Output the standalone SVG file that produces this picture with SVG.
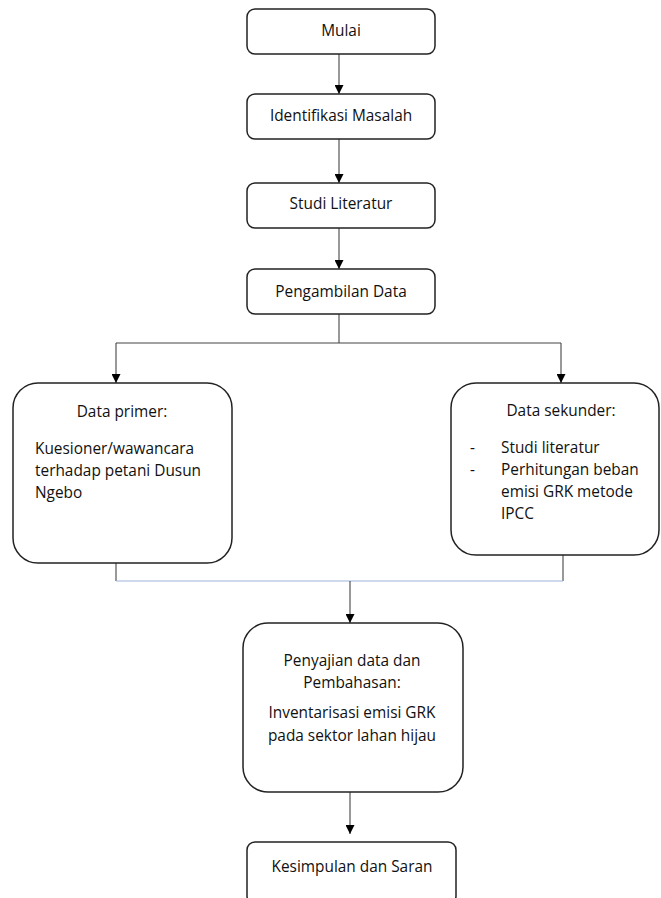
<svg xmlns="http://www.w3.org/2000/svg" width="661" height="898" viewBox="0 0 661 898">
<style>
.box{fill:#fff;stroke:#222;stroke-width:1.5}
.t{font-family:"Open Sans","Liberation Sans",sans-serif;font-size:15.4px;fill:#111}
.c{text-anchor:middle}
.ln{fill:none;stroke:#444;stroke-width:1.1}
.bl{fill:none;stroke:#9db3dc;stroke-width:1.2}
</style>
<defs>
<marker id="ah" viewBox="0 0 10 10" refX="10" refY="5" markerWidth="9" markerHeight="9" markerUnits="userSpaceOnUse" orient="auto">
<path d="M0,0 L10,5 L0,10 Z" fill="#000"/>
</marker>
</defs>
<rect width="661" height="898" fill="#fff"/>
<g id="connectors">
<line class="ln" x1="339" y1="54" x2="339" y2="94" marker-end="url(#ah)"/>
<line class="ln" x1="339" y1="139" x2="339" y2="183" marker-end="url(#ah)"/>
<line class="ln" x1="339" y1="228" x2="339" y2="269" marker-end="url(#ah)"/>
<polyline class="ln" points="339,314 339,343"/>
<polyline class="ln" points="116,343 561,343"/>
<line class="ln" x1="116" y1="343" x2="116" y2="383" marker-end="url(#ah)"/>
<line class="ln" x1="561" y1="343" x2="561" y2="383" marker-end="url(#ah)"/>
<polyline class="ln" points="116,563 116,581"/>
<polyline class="ln" points="563,555 563,581"/>
<line class="bl" x1="116" y1="581" x2="563" y2="581"/>
<line class="ln" x1="350" y1="581" x2="350" y2="623" marker-end="url(#ah)"/>
<line class="ln" x1="350" y1="792" x2="350" y2="834" marker-end="url(#ah)"/>
</g>
<g id="mulai">
<rect class="box" x="247" y="9" width="188" height="45" rx="8"/>
<text class="t c" x="341" y="36">Mulai</text>
</g>
<g id="identifikasi">
<rect class="box" x="247" y="94" width="188" height="45" rx="8"/>
<text class="t c" x="341" y="121">Identifikasi Masalah</text>
</g>
<g id="studi">
<rect class="box" x="247" y="183" width="188" height="45" rx="8"/>
<text class="t c" x="341" y="209">Studi Literatur</text>
</g>
<g id="pengambilan">
<rect class="box" x="247" y="269" width="188" height="45" rx="8"/>
<text class="t c" x="341" y="297">Pengambilan Data</text>
</g>
<g id="primer">
<rect class="box" x="13" y="383" width="219" height="180" rx="25"/>
<text class="t c" x="122" y="417">Data primer:</text>
<text class="t" x="35" y="454">Kuesioner/wawancara</text>
<text class="t" x="35" y="476">terhadap petani Dusun</text>
<text class="t" x="35" y="498">Ngebo</text>
</g>
<g id="sekunder">
<rect class="box" x="451" y="383" width="208" height="172" rx="25"/>
<text class="t c" x="561" y="416">Data sekunder:</text>
<text class="t" x="470" y="453">-</text>
<text class="t" x="501" y="453">Studi literatur</text>
<text class="t" x="470" y="475">-</text>
<text class="t" x="501" y="475">Perhitungan beban</text>
<text class="t" x="501" y="497">emisi GRK metode</text>
<text class="t" x="501" y="519">IPCC</text>
</g>
<g id="penyajian">
<rect class="box" x="243" y="623" width="220" height="169" rx="25"/>
<text class="t c" x="352" y="666">Penyajian data dan</text>
<text class="t c" x="352" y="688">Pembahasan:</text>
<text class="t c" x="352" y="718">Inventarisasi emisi GRK</text>
<text class="t c" x="352" y="741">pada sektor lahan hijau</text>
</g>
<g id="kesimpulan">
<rect class="box" x="247" y="842" width="209" height="62" rx="8"/>
<text class="t c" x="352" y="872">Kesimpulan dan Saran</text>
</g>
</svg>
